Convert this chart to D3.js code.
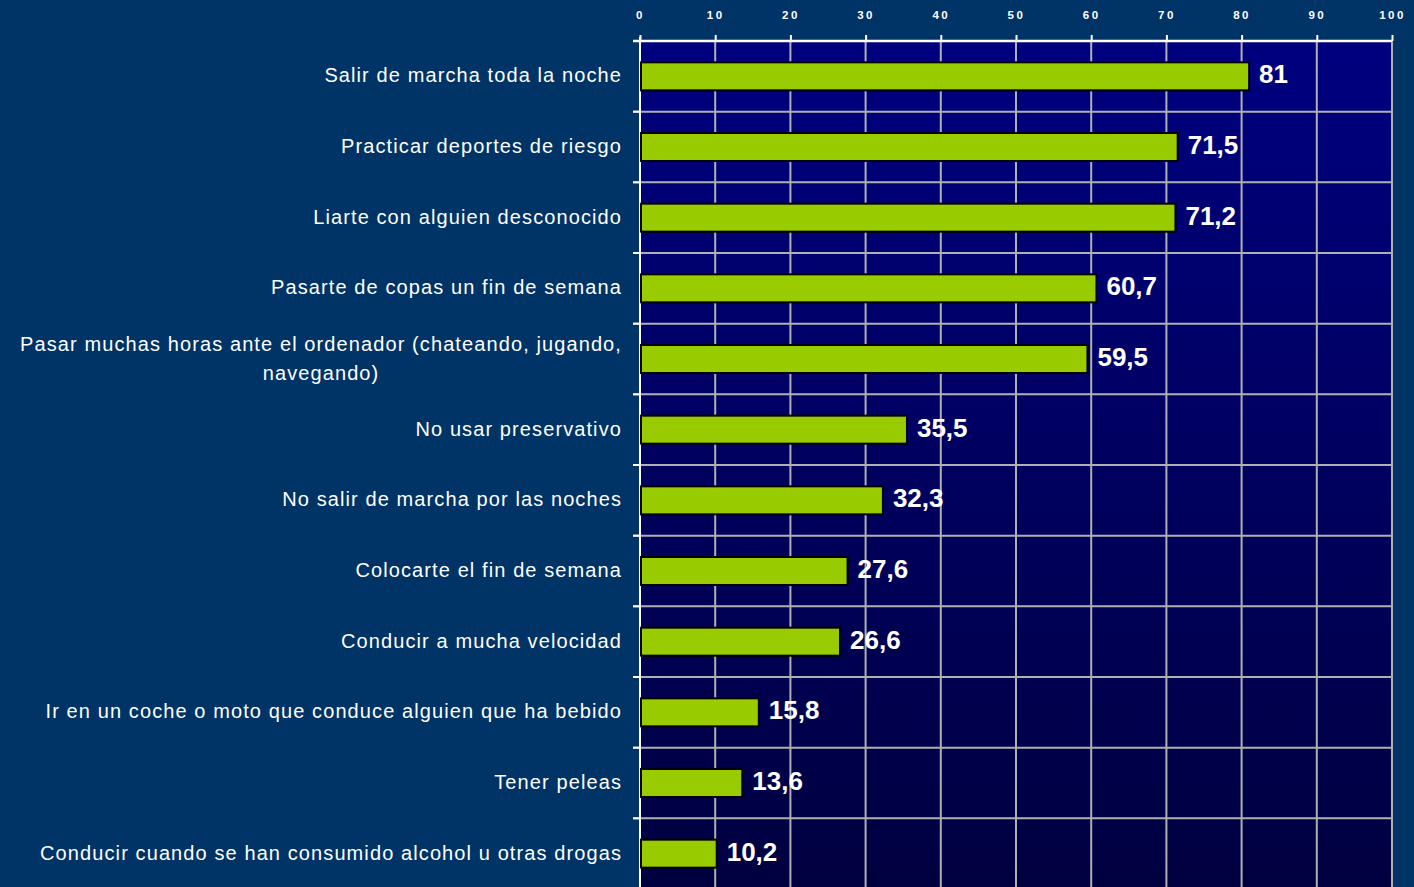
<!DOCTYPE html>
<html>
<head>
<meta charset="utf-8">
<script src="https://cdn.jsdelivr.net/npm/d3@7"></script>
<style>
  body { margin: 0; background: #003366; }
  svg { display: block; }
</style>
</head>
<body>
<svg id="chart"></svg>
<script>
const categories = [
  "Salir de marcha toda la noche",
  "Practicar deportes de riesgo",
  "Liarte con alguien desconocido",
  "Pasarte de copas un fin de semana",
  "Pasar muchas horas ante el ordenador (chateando, jugando,|navegando)",
  "No usar preservativo",
  "No salir de marcha por las noches",
  "Colocarte el fin de semana",
  "Conducir a mucha velocidad",
  "Ir en un coche o moto que conduce alguien que ha bebido",
  "Tener peleas",
  "Conducir cuando se han consumido alcohol u otras drogas"
];
const values = [81, 71.5, 71.2, 60.7, 59.5, 35.5, 32.3, 27.6, 26.6, 15.8, 13.6, 10.2];
const tickValues = [0, 10, 20, 30, 40, 50, 60, 70, 80, 90, 100];

const svg_width = 1414, svg_height = 887;
const margin = { top: 41, left: 640, right: 22, bottom: -2 };
const width = svg_width - margin.left - margin.right,
      height = svg_height - margin.top - margin.bottom;

const svg = d3.select("#chart")
  .attr("width", svg_width)
  .attr("height", svg_height);

const defs = svg.append("defs");
const grad = defs.append("linearGradient")
  .attr("id", "bg-grad")
  .attr("x1", "0%").attr("y1", "0%")
  .attr("x2", "0%").attr("y2", "100%");
grad.append("stop").attr("offset", "0%").attr("stop-color", "#000080");
grad.append("stop").attr("offset", "100%").attr("stop-color", "#000040");

const g = svg.append("g")
  .attr("transform", `translate(${margin.left},${margin.top})`);

const x = d3.scaleLinear().domain([0, 100]).range([0, width]);
const y = d3.scaleBand().domain(categories).range([0, height]).paddingInner(0).paddingOuter(0);

g.append("rect")
  .attr("width", width)
  .attr("height", height)
  .attr("fill", "url(#bg-grad)");

// vertical grid
g.append("g")
  .selectAll("line")
  .data(tickValues.slice(1))
  .join("line")
  .attr("x1", d => x(d)).attr("x2", d => x(d))
  .attr("y1", 0).attr("y2", height)
  .attr("stroke", "#b0b0b0")
  .attr("stroke-width", 2);

// horizontal separators
g.append("g")
  .selectAll("line")
  .data(categories.slice(1))
  .join("line")
  .attr("x1", -7).attr("x2", width)
  .attr("y1", d => y(d)).attr("y2", d => y(d))
  .attr("stroke", "#b0b0b0")
  .attr("stroke-width", 2);

// left axis ticks (white)
g.append("g")
  .selectAll("line")
  .data(categories.slice(1))
  .join("line")
  .attr("x1", -7).attr("x2", 0)
  .attr("y1", d => y(d)).attr("y2", d => y(d))
  .attr("stroke", "#ffffff")
  .attr("stroke-width", 2);

// top axis
const xAxis = g.append("g")
  .call(d3.axisTop(x).tickValues(tickValues).tickSize(6).tickPadding(16));
xAxis.select(".domain").remove();
xAxis.selectAll(".tick line").attr("stroke", "#ffffff").attr("stroke-width", 2);
xAxis.selectAll(".tick text")
  .attr("fill", "#ffffff")
  .attr("font-family", "Liberation Sans, Arial, sans-serif")
  .attr("font-weight", "bold")
  .attr("font-size", 11.5)
  .attr("letter-spacing", 2.5);

g.append("line")
  .attr("x1", -7).attr("x2", width)
  .attr("y1", 0).attr("y2", 0)
  .attr("stroke", "#ffffff")
  .attr("stroke-width", 2.5);

g.append("line")
  .attr("x1", 0).attr("x2", 0)
  .attr("y1", -4).attr("y2", height)
  .attr("stroke", "#ffffff")
  .attr("stroke-width", 2);

// bars
const barH = 28;
g.append("g")
  .selectAll("rect")
  .data(values)
  .join("rect")
  .attr("x", 1)
  .attr("y", (d, i) => y(categories[i]) + y.bandwidth() / 2 - barH / 2)
  .attr("width", d => x(d) - 1)
  .attr("height", barH)
  .attr("fill", "#99cc00")
  .attr("stroke", "#000000")
  .attr("stroke-width", 2);

// value labels
g.append("g")
  .selectAll("text")
  .data(values)
  .join("text")
  .attr("x", d => x(d) + 10)
  .attr("y", (d, i) => y(categories[i]) + y.bandwidth() / 2 - 2)
  .attr("dy", "0.35em")
  .attr("fill", "#ffffff")
  .attr("font-family", "Liberation Sans, Arial, sans-serif")
  .attr("font-weight", "bold")
  .attr("font-size", 26)
  .text(d => String(d).replace(".", ","));

// category labels
const labels = g.append("g")
  .selectAll("text")
  .data(categories)
  .join("text")
  .attr("fill", "#ffffff")
  .attr("font-family", "Liberation Sans, Arial, sans-serif")
  .attr("font-size", 20)
  .attr("letter-spacing", 1.1)
  .attr("text-anchor", "end");

labels.each(function(d) {
  const t = d3.select(this);
  const lines = d.split("|");
  const cy = y(d) + y.bandwidth() / 2 - 1;
  if (lines.length === 1) {
    t.attr("x", -18).attr("y", cy).attr("dy", "0.35em").text(d);
  } else {
    const lh = 29;
    const spans = t.selectAll("tspan")
      .data(lines)
      .join("tspan")
      .attr("y", (l, i) => cy + (i - (lines.length - 1) / 2) * lh)
      .attr("dy", "0.35em")
      .text(l => l);
    const w = d3.max(spans.nodes(), n => n.getComputedTextLength());
    t.attr("text-anchor", "middle");
    spans.attr("x", -18 - w / 2);
  }
});
</script>
</body>
</html>
